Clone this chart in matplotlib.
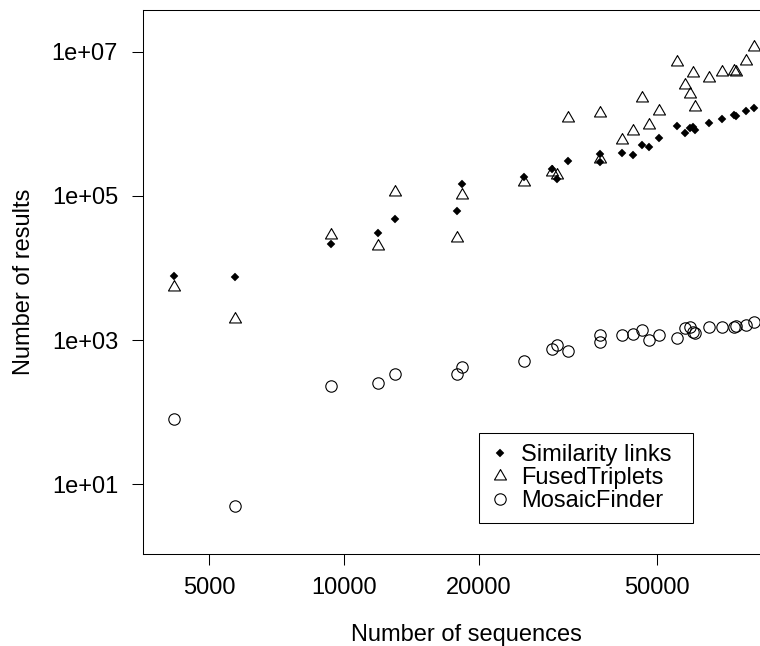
import matplotlib
matplotlib.use('Agg')
import matplotlib.pyplot as plt

# numero de sequencias de cada conjunto de dados (eixo x)
numSequences = [4170, 5720, 9360, 11900, 13000, 17900, 18400, 25300, 29100, 29900,
                31600, 37400, 37400, 41800, 44200, 46300, 48100, 50600, 55400, 57800,
                59300, 60400, 60900, 65400, 69900, 74400, 75000, 79000, 82500]

# numero de resultados de cada metodo
similarityLinks = [7820, 7580, 21500, 30300, 47800, 62300, 148000, 185000, 234000, 172000,
                   305000, 385000, 292000, 394000, 366000, 513000, 477000, 642000, 941000, 752000,
                   866000, 903000, 813000, 1020000, 1150000, 1330000, 1300000, 1490000, 1670000]

fusedTriplets = [5400, 1940, 28400, 20200, 112000, 25800, 103000, 157000, 217000, 195000,
                 1190000, 1430000, 322000, 596000, 795000, 2260000, 953000, 1510000, 7270000, 3450000,
                 2570000, 5020000, 1690000, 4280000, 5280000, 5400000, 5280000, 7430000, 11500000]

mosaicFinder = [80, 5.05, 231, 252, 336, 339, 428, 518, 752, 855,
                713, 1177, 950, 1177, 1203, 1381, 1003, 1177, 1059, 1458,
                1505, 1308, 1267, 1505, 1534, 1534, 1560, 1620, 1800]

seriesNames = ['Similarity links', 'FusedTriplets', 'MosaicFinder']

xTicks = [5000, 10000, 20000, 50000]
xTickLabels = ['5000', '10000', '20000', '50000']
yTicks = [1e1, 1e3, 1e5, 1e7]
yTickLabels = ['1e+01', '1e+03', '1e+05', '1e+07']


def main():
    plt.rcParams['font.family'] = ['Liberation Sans', 'DejaVu Sans']

    fig = plt.figure(figsize=(7.6, 6.46), dpi=100)
    # o grafico original esta cortado a direita, por isso o eixo passa da figura
    ax = fig.add_axes([0.1875, 0.1420, 0.852, 0.8426])

    # triangulo no estilo do pch=2 do R (centrado no baricentro)
    triangulo = [(0, 1.555), (1.347, -0.778), (-1.347, -0.778), (0, 1.555)]

    ax.plot(numSequences, similarityLinks, linestyle='none', marker='D', markersize=4,
            color='black', markeredgewidth=0.3, label=seriesNames[0])
    ax.plot(numSequences, fusedTriplets, linestyle='none', marker=triangulo, markersize=10,
            markerfacecolor='none', markeredgecolor='black', markeredgewidth=0.8,
            label=seriesNames[1])
    ax.plot(numSequences, mosaicFinder, linestyle='none', marker='o', markersize=8.2,
            markerfacecolor='none', markeredgecolor='black', markeredgewidth=0.8,
            label=seriesNames[2])

    ax.set_xscale('log')
    ax.set_yscale('log')
    ax.set_xlim(3548, 99276)
    ax.set_ylim(1.069, 3.788e7)

    ax.set_xticks(xTicks)
    ax.set_xticklabels(xTickLabels)
    ax.set_yticks(yTicks)
    ax.set_yticklabels(yTickLabels)
    ax.minorticks_off()
    ax.tick_params(axis='both', direction='out', length=7.9, width=0.75,
                   labelsize=17, color='black')
    ax.tick_params(axis='x', pad=8.2)
    ax.tick_params(axis='y', pad=9.7)

    for spine in ax.spines.values():
        spine.set_linewidth(0.75)
        spine.set_color('black')

    ax.set_xlabel('Number of sequences', fontsize=17, labelpad=18)
    ax.set_ylabel('Number of results', fontsize=17, labelpad=12.3)

    # caixa da legenda com a mesma largura do original
    leg = ax.legend(loc='upper left', bbox_to_anchor=(0.5202, 0.0551, 0.3305, 0.1672),
                    mode='expand', borderaxespad=0, fontsize=17, labelspacing=0.05,
                    handlelength=0.86, handletextpad=0.46, borderpad=0.45,
                    fancybox=False, framealpha=1, edgecolor='black')
    leg.get_frame().set_linewidth(0.75)

    fig.savefig('out.png', dpi=100)


if __name__ == "__main__":
    main()
